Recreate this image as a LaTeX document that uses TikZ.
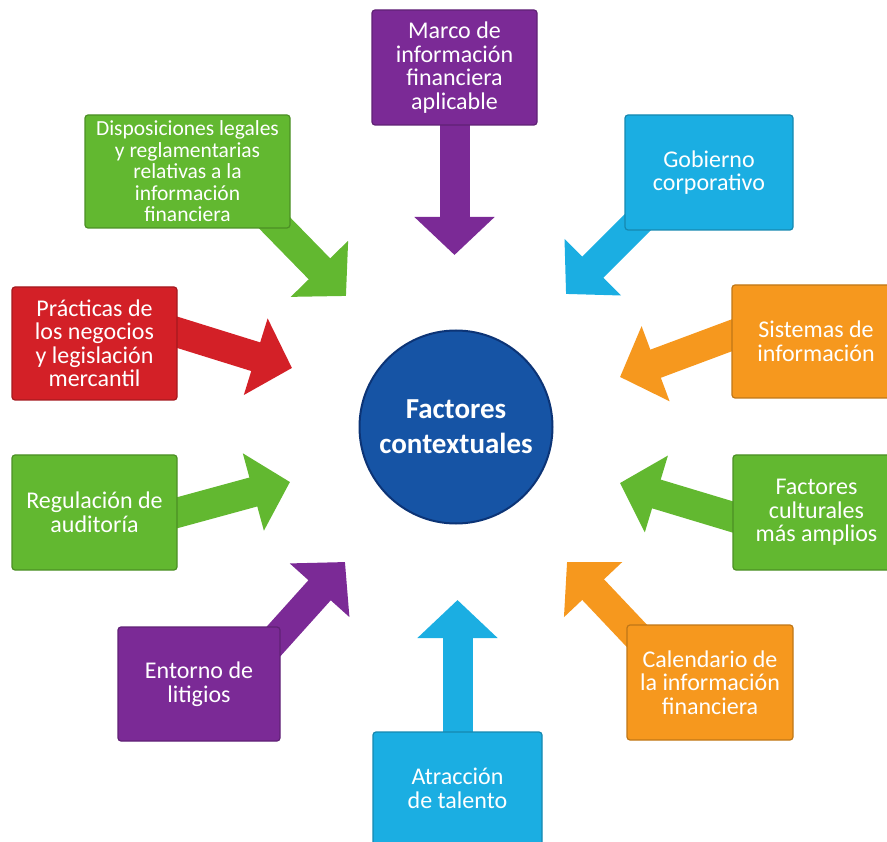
\documentclass[tikz,border=0pt]{standalone}
\usepackage{fontspec}
\setmainfont{Carlito}
\usetikzlibrary{arrows.meta,backgrounds}
\definecolor{purpleC}{RGB}{123,42,150}
\definecolor{cyanC}{RGB}{27,174,226}
\definecolor{greenC}{RGB}{98,184,48}
\definecolor{redC}{RGB}{211,32,39}
\definecolor{orangeC}{RGB}{246,152,30}
\definecolor{blueC}{RGB}{22,84,165}
\definecolor{blueD}{RGB}{12,52,118}
\tikzset{
  box/.style={draw=#1!78!black, fill=#1, line width=1.2pt, rounded corners=3pt,
    text=white, align=center, font=\fontsize{24}{23.5}\selectfont, inner sep=2pt},
  arr/.style={line width=30pt, draw=#1, -{Triangle[length=38pt,width=78pt]}},
}
\begin{document}
\begin{tikzpicture}[x=1pt,y=-1pt]
\useasboundingbox (0,0) rectangle (887,842);

\node[box=purpleC, minimum width=165pt, minimum height=115pt] (marco) at (454.5,67.5)
  {Marco de\\información\\financiera\\aplicable};
\node[box=cyanC, minimum width=168pt, minimum height=115pt] (gob) at (709,172.5)
  {Gobierno\\corporativo};
\node[box=greenC, minimum width=205pt, minimum height=113pt, font=\fontsize{21.5}{21.5}\selectfont] (disp) at (187.5,171.5)
  {Disposiciones legales\\y reglamentarias\\relativas a la\\información\\financiera};
\node[box=redC, minimum width=165pt, minimum height=113pt] (prac) at (94.5,343.5)
  {Prácticas de\\los negocios\\y legislación\\mercantil};
\node[box=greenC, minimum width=165pt, minimum height=115pt] (reg) at (94.5,512.5)
  {Regulación de\\auditoría};
\node[box=purpleC, minimum width=162pt, minimum height=114pt] (ent) at (199,684)
  {Entorno de\\litigios};
\node[box=cyanC, minimum width=169pt, minimum height=113pt] (atr) at (457.5,788.5)
  {Atracción\\de talento};
\node[box=orangeC, minimum width=166pt, minimum height=115pt] (cal) at (710,682.5)
  {Calendario de\\la información\\financiera};
\node[box=greenC, minimum width=167pt, minimum height=115pt] (cul) at (816.5,512.5)
  {Factores\\culturales\\más amplios};
\node[box=orangeC, minimum width=168pt, minimum height=113pt] (sis) at (816,341.5)
  {Sistemas de\\información};

\node[circle, fill=blueC, draw=blueD, line width=2pt, minimum size=193pt, text=white,
  font=\bfseries\fontsize{29}{35}\selectfont, align=center] (ctr) at (456,427)
  {Factores\\contextuales};

\coordinate (t1) at (454.5,255);
\coordinate (t2) at (566,294);
\coordinate (t3) at (346,296);
\coordinate (t4) at (292,368);
\coordinate (t5) at (290,482);
\coordinate (t6) at (345,562);
\coordinate (t7) at (457.5,600);
\coordinate (t8) at (567,562);
\coordinate (t9) at (620,483);
\coordinate (t10) at (620,377);

\begin{scope}[on background layer]
\draw[arr=purpleC] (marco.center) -- (t1);
\draw[arr=cyanC] ([xshift=25pt,yshift=20pt]gob.south west) -- (t2);
\draw[arr=greenC] ([xshift=-30pt,yshift=20pt]disp.south east) -- (t3);
\draw[arr=redC] ([xshift=-27pt,yshift=19.5pt]prac.east) -- (t4);
\draw[arr=greenC] ([xshift=-27pt,yshift=-7.5pt]reg.east) -- (t5);
\draw[arr=purpleC] ([xshift=-25pt,yshift=-35pt]ent.north east) -- (t6);
\draw[arr=cyanC] (atr.center) -- (t7);
\draw[arr=orangeC] ([xshift=28pt,yshift=-30pt]cal.north west) -- (t8);
\draw[arr=greenC] ([xshift=27pt,yshift=-12.5pt]cul.west) -- (t9);
\draw[arr=orangeC] ([xshift=28pt,yshift=16.5pt]sis.west) -- (t10);
\end{scope}
\end{tikzpicture}
\end{document}
